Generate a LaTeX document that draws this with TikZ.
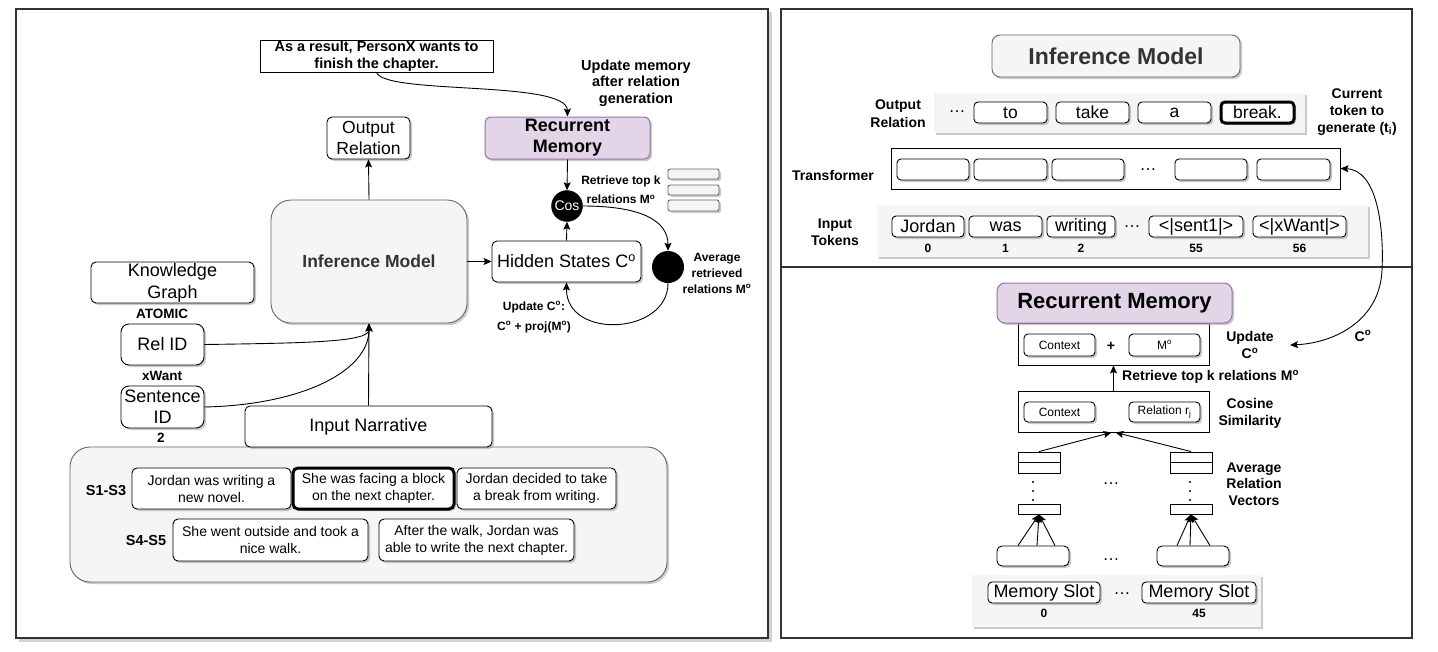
\documentclass[tikz,border=0pt]{standalone}
\usepackage{fontspec}
\setmainfont{Liberation Sans}
\usetikzlibrary{shadows,arrows.meta,calc}
\definecolor{gf}{HTML}{F5F5F5}
\definecolor{gs}{HTML}{666666}
\definecolor{gt}{HTML}{333333}
\definecolor{pf}{HTML}{E1D5E7}
\definecolor{ps}{HTML}{9673A6}
\newcommand\fs[2]{\fontsize{#1}{#2}\selectfont}
\newcommand\so{\textsuperscript{o}}
\newcommand\bx[7]{\node[#1, minimum width={(#5-#3)*1pt}, minimum height={(#6-#4)*1pt}] (#2) at ({(#3+#5)/2},{(#4+#6)/2}) {#7};}
\begin{document}
\begin{tikzpicture}[x=1pt,y=-1pt,
  box/.style={draw=black, fill=white, line width=0.9pt, inner sep=0pt, align=center, rounded corners=5pt},
  shd/.style={drop shadow={shadow xshift=2pt,shadow yshift=-2pt,fill=black!35,opacity=0.6}},
  sq/.style={draw=black, fill=white, line width=0.9pt, inner sep=0pt, align=center},
  gbox/.style={draw=gs, fill=gf, line width=0.9pt, inner sep=0pt, align=center},
  pbox/.style={draw=ps, fill=pf, line width=1pt, inner sep=0pt, align=center, rounded corners=6pt},
  bg/.style={fill=gf, draw=none, inner sep=0pt},
  lbl/.style={inner sep=0pt, align=center},
  tok/.style={box,shd,rounded corners=4pt,font=\fs{17.5}{20}},
  sbox/.style={box,shd,rounded corners=4pt,font=\fs{12}{14}},
  arr/.style={-{Stealth[length=8pt,width=7pt,inset=1.5pt]}, line width=0.9pt},
  blab/.style={lbl,font=\bfseries\fs{14}{17}}
]
\useasboundingbox (0,0) rectangle (1438,651);
% ---------------- frames
\draw[black!18, line width=2.5pt] (19,640.5) -- (770.5,640.5) -- (770.5,12);
\draw[gt, line width=1.3pt] (16,9) rectangle (768,638);
\draw[gt, line width=1.3pt] (781,9) rectangle (1412,638);
\draw[gt, line width=1.3pt] (781,267) -- (1412,267);

% ---------------- LEFT PANEL
\bx{sq,font=\bfseries\fs{14.5}{17}}{asres}{260}{40}{493}{72}{As a result, PersonX wants to\\finish the chapter.}
\node[lbl,font=\bfseries\fs{14.5}{16.5}] (updmem) at (636,83) {Update memory\\after relation\\generation};
\bx{box,shd,font=\fs{17.5}{21}}{outrel}{327}{117}{410}{159}{Output\\Relation}
\bx{pbox,shd,font=\bfseries\fs{18}{21}}{recmem}{485}{117}{650}{159}{Recurrent\\Memory}
\node[circle, fill=black, draw=black, minimum size=31pt, inner sep=0pt, text=white, font=\fs{14}{16}] (cos) at (567,206) {Cos};
\bx{gbox,shd,rounded corners=2pt}{bara}{668}{169}{719}{179}{}
\bx{gbox,shd,rounded corners=2pt}{barb}{668}{185}{719}{195}{}
\bx{gbox,shd,rounded corners=2pt}{barc}{668}{200}{719}{211}{}
\node[lbl,font=\bfseries\fs{12}{19}] (retr) at (621,190) {Retrieve top k\\relations M\so};
\bx{gbox,shd,rounded corners=20pt,font=\bfseries\fs{17.5}{21},text=gt}{infm}{271}{200}{467}{323}{Inference Model}
\bx{box,shd,font=\fs{18}{21}}{hs}{492}{241}{641}{282}{Hidden States C\so}
\node[circle, fill=black, minimum size=32pt, inner sep=0pt] (avg) at (668,267) {};
\node[lbl,font=\bfseries\fs{12}{16}] (avgt) at (717,273) {Average\\retrieved\\relations M\so};
\node[lbl,font=\bfseries\fs{12}{20}] (updc) at (534,317) {Update C\so:\\C\so{} + proj(M\so)};
\bx{box,shd,font=\fs{18}{22}}{kg}{91}{262}{254}{303}{Knowledge\\Graph}
\node[lbl,font=\bfseries\fs{13.5}{16}] (atomic) at (162,314) {ATOMIC};
\bx{box,shd,rounded corners=8pt,font=\fs{18}{21}}{relid}{121}{324}{204}{365}{Rel ID}
\node[lbl,font=\bfseries\fs{13.5}{16}] (xwant) at (162,376) {xWant};
\bx{box,shd,rounded corners=8pt,font=\fs{18}{21}}{sentid}{121}{386}{204}{428}{Sentence\\ID}
\node[lbl,font=\bfseries\fs{13.5}{16}] (two) at (161,438) {2};
\bx{gbox,shd,rounded corners=20pt}{cont}{70}{447}{667}{582}{}
\bx{box,shd,font=\fs{18}{21}}{innar}{245}{406}{492}{447}{Input Narrative}
\node[lbl,font=\bfseries\fs{14.5}{17}] (s13) at (106,491) {S1-S3};
\bx{box,shd,font=\fs{14}{17}}{sa}{132}{468}{291}{509}{Jordan was writing a\\new novel.}
\bx{box,shd,line width=3pt,font=\fs{14}{17}}{sb}{293}{468}{454}{509}{She was facing a block\\on the next chapter.}
\bx{box,shd,font=\fs{14}{17}}{sc}{457}{468}{616}{509}{Jordan decided to take\\a break from writing.}
\node[lbl,font=\bfseries\fs{14.5}{17}] (s45) at (146,541) {S4-S5};
\bx{box,shd,font=\fs{14}{17}}{sd}{173}{519}{368}{561}{She went outside and took a\\nice walk.}
\bx{box,shd,font=\fs{14}{17}}{se}{379}{519}{574}{561}{After the walk, Jordan was\\able to write the next chapter.}

% left connectors
\draw[arr] (asres.south) .. controls (385,95) and (567,80) .. (recmem.north);
\draw[arr] (infm.north) -- (outrel.south);
\draw[arr] (infm.east) -- (hs.west);
\draw[arr] (recmem.south) -- (cos.north);
\draw[arr] (hs.north) -- (cos.south);
\draw[arr] (cos.east) .. controls (640,206) and (668,220) .. (avg.north);
\draw[arr] (avg.south) .. controls (668,335) and (566,340) .. (hs.south);
\draw[arr] (relid.east) .. controls (310,343) and (369,342) .. (infm.south);
\draw[arr] (sentid.east) .. controls (300,405) and (369,372) .. (infm.south);
\draw[arr] (innar.north) -- (infm.south);

% ---------------- RIGHT PANEL (top)
\bx{gbox,shd,rounded corners=8pt,font=\bfseries\fs{23}{27},text=gt}{rinfm}{992}{35}{1240}{77}{Inference Model}
\bx{bg,shd}{outbg}{934}{93}{1305}{133}{}
\node[blab,font=\bfseries\fs{14}{18}] (outl) at (898,114) {Output\\Relation};
\node[lbl,font=\fs{17}{20}] (odots) at (957,112) {\dots};
\bx{tok}{tto}{974}{102}{1047}{123}{to}
\bx{tok}{ttake}{1056}{102}{1129}{123}{take}
\bx{tok}{ta}{1138}{102}{1211}{123}{a}
\bx{tok,line width=3pt}{tbreak}{1221}{102}{1294}{123}{break.}
\node[blab] (cur) at (1357,112) {Current\\token to\\generate (t\textsubscript{i})};
\bx{sq}{trans}{891}{148}{1340}{189}{}
\bx{box,shd,rounded corners=4pt}{ca}{897}{159}{969}{180}{}
\bx{box,shd,rounded corners=4pt}{cb}{974}{159}{1047}{180}{}
\bx{box,shd,rounded corners=4pt}{cc}{1052}{159}{1124}{180}{}
\bx{box,shd,rounded corners=4pt}{cd}{1175}{159}{1247}{180}{}
\bx{box,shd,rounded corners=4pt}{ce}{1257}{159}{1330}{180}{}
\node[lbl,font=\fs{17}{20}] (tdots) at (1148,170) {\dots};
\node[blab] (transl) at (833,175) {Transformer};
\bx{bg,shd}{inbg}{877}{205}{1368}{257}{}
\node[blab] (inl) at (835,232) {Input\\Tokens};
\bx{tok,font=\fs{18}{20}}{ja}{892}{216}{964}{237}{Jordan}
\bx{tok,font=\fs{18}{20}}{jb}{969}{216}{1042}{237}{was}
\bx{tok,font=\fs{18}{20}}{jc}{1047}{216}{1115}{237}{writing}
\node[lbl,font=\fs{17}{20}] (idots) at (1132,227) {\dots};
\bx{tok,font=\fs{18}{20}}{jd}{1149}{216}{1243}{237}{<\textbar sent1\textbar>}
\bx{tok,font=\fs{18}{20}}{je}{1253}{216}{1346}{237}{<\textbar xWant\textbar>}
\node[lbl,font=\bfseries\fs{12}{14}] (na) at (928,248) {0};
\node[lbl,font=\bfseries\fs{12}{14}] (nb) at (1005.5,248) {1};
\node[lbl,font=\bfseries\fs{12}{14}] (nc) at (1081,248) {2};
\node[lbl,font=\bfseries\fs{12}{14}] (nd) at (1196,248) {55};
\node[lbl,font=\bfseries\fs{12}{14}] (ne) at (1299.5,248) {56};

% ---------------- RIGHT PANEL (bottom)
\bx{sq}{upd}{1018}{323}{1209}{365}{}
\bx{pbox,shd,rounded corners=8pt,font=\bfseries\fs{22}{26}}{rrm}{997}{283}{1232}{323}{Recurrent Memory}
\bx{sbox}{ctxa}{1024}{334}{1095}{356}{Context}
\node[blab] (plus) at (1111,346) {+};
\bx{sbox}{mo}{1129}{334}{1200}{356}{M\so}
\node[blab] (updl) at (1250,345) {Update\\C\so};
\coordinate (updtip) at (1290,345);
\draw[{Stealth[length=8pt,width=7pt,inset=1.5pt]}-{Stealth[length=8pt,width=7pt,inset=1.5pt]}, line width=0.9pt]
  (trans.east) .. controls (1378,170) and (1384,230) .. (1382,270) .. controls (1380,320) and (1335,343) .. (updtip);
\node[blab] (col) at (1363,336) {C\so};
\bx{sq}{cosb}{1018}{391}{1209}{432}{}
\bx{sbox}{ctxb}{1024}{402}{1095}{422}{Context}
\bx{sbox}{rel}{1129}{402}{1200}{422}{Relation r\textsubscript{j}}
\draw[arr] (cosb.north) -- (upd.south);
\node[blab,anchor=west] (retrb) at (1122,377) {Retrieve top k relations M\so};
\node[blab] (cosl) at (1250,413) {Cosine\\Similarity};
\bx{sq}{va}{1018}{452}{1060}{473}{}
\bx{sq}{vb}{1170}{452}{1212}{473}{}
\draw[line width=0.9pt] (va.west) -- (va.east);
\draw[line width=0.9pt] (vb.west) -- (vb.east);
\draw[arr] (va.north) -- ($(cosb.south)+(-2,0)$);
\draw[arr] (vb.north) -- ($(cosb.south)+(2,0)$);
\foreach \yy in {482,491,500} {
  \fill (1033,\yy) circle (1.1pt);
  \fill (1190,\yy) circle (1.1pt);
}
\node[lbl,font=\fs{17}{20}] (mdotsa) at (1111,484) {\dots};
\node[blab,font=\bfseries\fs{14}{16.5}] (avgl) at (1254,484) {Average\\Relation\\Vectors};
\bx{sq}{wa}{1018}{504}{1060}{514}{}
\bx{sq}{wb}{1170}{504}{1212}{514}{}
\bx{box,shd,rounded corners=5pt}{ba}{997}{546}{1069}{566}{}
\bx{box,shd,rounded corners=5pt}{bb}{1157}{546}{1229}{566}{}
\node[lbl,font=\fs{17}{20}] (mdotsb) at (1111,560) {\dots};
\draw[arr] ($(ba.north)+(-15,0)$) -- (wa.south);
\draw[arr] ($(ba.north)+(4,0)$) -- (wa.south);
\draw[arr] ($(ba.north)+(22,0)$) -- (wa.south);
\draw[arr] ($(bb.north)+(-16,0)$) -- (wb.south);
\draw[arr] ($(bb.north)+(-3,0)$) -- (wb.south);
\draw[arr] ($(bb.north)+(17,0)$) -- (wb.south);
\bx{bg,shd}{membg}{972}{575}{1261}{627}{}
\bx{tok,font=\fs{18}{20}}{ma}{988}{582}{1100}{603}{Memory Slot}
\bx{tok,font=\fs{18}{20}}{mb}{1142}{582}{1256}{603}{Memory Slot}
\node[lbl,font=\fs{17}{20}] (msdots) at (1122,594) {\dots};
\node[lbl,font=\bfseries\fs{12}{14}] (mna) at (1044,613) {0};
\node[lbl,font=\bfseries\fs{12}{14}] (mnb) at (1199,613) {45};
\end{tikzpicture}
\end{document}
